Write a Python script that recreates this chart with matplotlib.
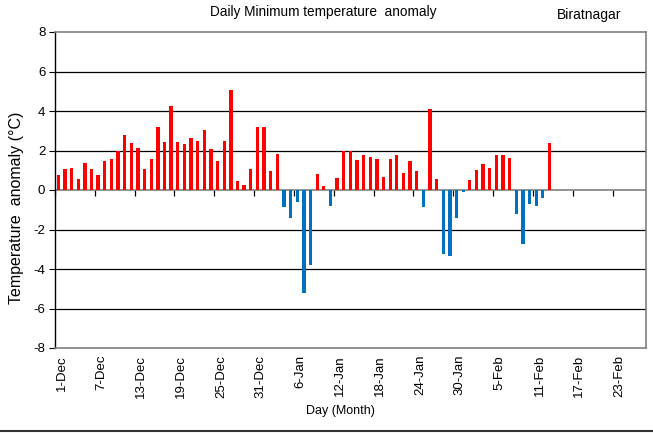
import numpy as np
import matplotlib
matplotlib.use("Agg")
import matplotlib.pyplot as plt
from matplotlib.lines import Line2D

plt.rcParams['font.family'] = ['Liberation Sans', 'DejaVu Sans']
plt.rcParams['axes.unicode_minus'] = False

# Daily minimum temperature anomaly, 1 Dec .. 13 Feb
anomaly = [
    0.75, 1.07, 1.12, 0.56, 1.38, 1.07, 0.75, 1.45, 1.56, 2.00,
    2.76, 2.40, 2.13, 1.07, 1.56, 3.20, 2.45, 4.27, 2.45, 2.33,
    2.64, 2.50, 3.06, 2.07, 1.45, 2.50, 5.08, 0.44, 0.24, 1.07,
    3.20, 3.20, 0.94, 1.82, -0.86, -1.41, -0.60, -5.24, -3.78, 0.82,
    0.19, -0.81, 0.61, 2.00, 1.96, 1.51, 1.75, 1.68, 1.58, 0.68,
    1.58, 1.75, 0.88, 1.45, 0.94, -0.86, 4.08, 0.56, -3.23, -3.33,
    -1.41, -0.10, 0.51, 1.00, 1.33, 1.12, 1.75, 1.75, 1.63, -1.21,
    -2.72, -0.71, -0.81, -0.40, 2.40,
]
tick_labels = ["1-Dec", "7-Dec", "13-Dec", "19-Dec", "25-Dec", "31-Dec",
               "6-Jan", "12-Jan", "18-Jan", "24-Jan", "30-Jan",
               "5-Feb", "11-Feb", "17-Feb", "23-Feb"]
y_ticks = [-8, -6, -4, -2, 0, 2, 4, 6, 8]
n_days_axis = 89
tick_step = 6

vals = np.array(anomaly)
x = np.arange(len(vals)) + 0.5
colors = np.where(vals >= 0, '#FF0000', '#0070C0')

fig = plt.figure(figsize=(6.53, 4.33), dpi=100)
ax = fig.add_axes([55/653, 1-348/433, (645.7-55)/653, (348-32)/433])

for yv in y_ticks:
    if yv in (-8, 8, 0):
        continue
    ax.axhline(yv, color='#000000', lw=0.9, zorder=1)
ax.axhline(0, color='#808080', lw=1.2, zorder=1)

ax.bar(x, vals, width=0.5, color=colors, zorder=3)

ax.set_xlim(0, n_days_axis)
ax.set_ylim(-8, 8)
ax.set_yticks(y_ticks)
ax.set_yticklabels([str(v) for v in y_ticks], fontsize=9.5)
ax.tick_params(axis='y', direction='out', length=4, width=0.8, color='black', pad=3)

tick_pos = np.arange(len(tick_labels)) * tick_step
ax.set_xticks(tick_pos + 1.0)
ax.set_xticklabels(tick_labels, rotation=90, fontsize=9.5, va='top', ha='center')
ax.tick_params(axis='x', length=0, pad=5)

sec = ax.secondary_xaxis(0.5)
sec.set_xticks(tick_pos)
sec.set_xticklabels([''] * len(tick_pos))
sec.tick_params(axis='x', direction='in', length=4, width=0.9, color='black')
sec.spines['bottom'].set_visible(False)
sec.spines['top'].set_visible(False)

ax.spines['left'].set_color('black')
ax.spines['left'].set_linewidth(1.0)
for s in ('top', 'right', 'bottom'):
    ax.spines[s].set_color('#808080')
    ax.spines[s].set_linewidth(1.2)

fig.text(323/653, 1-12/433, 'Daily Minimum temperature  anomaly', ha='center', va='center', fontsize=9.8)
fig.text(589/653, 1-15/433, 'Biratnagar', ha='center', va='center', fontsize=10)
fig.text(340/653, 1-411/433, 'Day (Month)', ha='center', va='center', fontsize=9)
fig.text(17/653, 1-208/433, 'Temperature  anomaly (°C)', ha='center', va='center', rotation=90, fontsize=11.5)

fig.add_artist(Line2D([0, 1], [2.5/433, 2.5/433], color='#333333', lw=1.5, transform=fig.transFigure))

fig.savefig('out.png', dpi=100)
